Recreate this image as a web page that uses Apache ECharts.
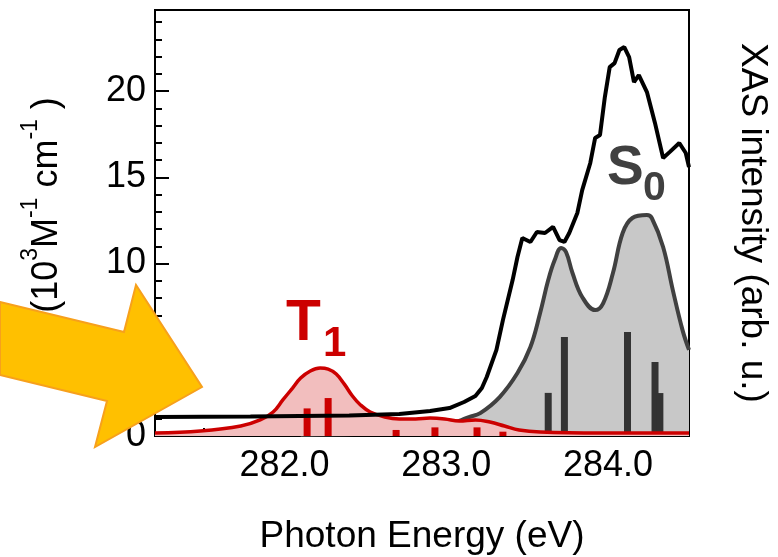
<!DOCTYPE html>
<html>
<head>
<meta charset="utf-8">
<script src="https://cdn.jsdelivr.net/npm/echarts@6/dist/echarts.min.js"></script>
<style>
html, body { margin: 0; padding: 0; background: #fff; }
#main { width: 778px; height: 557px; }
</style>
</head>
<body>
<div id="main"></div>
<script>
// measured XAS (black line)
var xasEnergy = [281.2, 281.79, 282.4, 282.71, 282.9, 283.02, 283.11, 283.18, 283.22, 283.25, 283.31, 283.35, 283.41, 283.44, 283.47, 283.52, 283.56, 283.61, 283.66, 283.70, 283.73, 283.76, 283.81, 283.84, 283.89, 283.92, 283.95, 283.98, 284.01, 284.04, 284.07, 284.10, 284.13, 284.16, 284.19, 284.24, 284.29, 284.34, 284.38, 284.44, 284.48, 284.5];
var xasValue = [1.10, 1.13, 1.19, 1.28, 1.45, 1.62, 1.97, 2.32, 2.78, 3.42, 4.99, 6.72, 9.04, 10.38, 11.48, 11.25, 11.83, 11.77, 12.12, 11.36, 11.25, 11.77, 12.93, 14.26, 15.83, 17.28, 17.45, 19.65, 21.39, 21.62, 22.38, 22.55, 21.97, 20.52, 20.93, 19.94, 18.14, 16.12, 16.46, 16.99, 16.41, 15.59];

// S0 calculated spectrum (grey)
var s0Energy = [282.1, 282.59, 282.84, 282.99, 283.08, 283.14, 283.21, 283.33, 283.44, 283.52, 283.58, 283.63, 283.67, 283.71, 283.74, 283.78, 283.84, 283.92, 283.97, 284.03, 284.09, 284.15, 284.24, 284.27, 284.34, 284.40, 284.46, 284.5];
var s0Value = [0.06, 0.17, 0.35, 0.58, 0.87, 1.10, 1.33, 2.26, 3.65, 5.16, 7.13, 9.04, 10.20, 10.90, 10.67, 9.45, 8.06, 7.30, 7.71, 9.45, 11.77, 12.64, 12.81, 12.64, 10.96, 8.46, 6.14, 4.99];
var s0StickEnergy = [283.63, 283.73, 284.12, 284.29, 284.32];
var s0StickHeight = [2.5, 5.74, 6.03, 4.29, 2.49];

// T1 calculated spectrum (red)
var t1Energy = [281.2, 281.48, 281.73, 281.85, 281.93, 281.99, 282.05, 282.10, 282.16, 282.22, 282.27, 282.32, 282.37, 282.42, 282.47, 282.53, 282.62, 282.71, 282.81, 282.90, 282.99, 283.08, 283.18, 283.27, 283.36, 283.45, 283.58, 283.95, 284.5];
var t1Value = [0.17, 0.29, 0.58, 0.93, 1.39, 2.09, 2.78, 3.36, 3.77, 3.94, 3.88, 3.59, 3.01, 2.32, 1.80, 1.39, 1.10, 0.99, 0.99, 1.04, 0.99, 0.87, 0.93, 0.81, 0.58, 0.35, 0.23, 0.17, 0.17];
var t1StickEnergy = [282.14, 282.27, 282.69, 282.93, 283.19, 283.35];
var t1StickHeight = [1.6, 2.2, 0.35, 0.5, 0.5, 0.25];

// axis ticks
var xLabelTicks = [282, 283, 284];
var xHalfTicks = [281.5, 282.5, 283.5];

function pairs(xs, ys) {
    return xs.map(function (x, i) { return [x, ys[i]]; });
}

// vertical sticks, drawn through the axes
function sticks(name, xs, hs, color, z) {
    return {
        name: name, type: 'custom', z: z, data: pairs(xs, hs),
        renderItem: function (params, api) {
            var base = api.coord([api.value(0), 0]);
            var top = api.coord([api.value(0), api.value(1)]);
            return {
                type: 'rect',
                shape: { x: top[0] - 3.5, y: top[1], width: 7, height: base[1] - top[1] },
                style: { fill: color }
            };
        }
    };
}

var font = 'Liberation Sans, Arial, sans-serif';
var myChart = echarts.init(document.getElementById('main'));

var tickStyle = { color: '#000', width: 2 };

var option = {
    animation: false,
    backgroundColor: '#fff',
    grid: {
        left: 155, right: 89, top: 10, bottom: 121,
        outerBoundsMode: 'none', containLabel: false,
        show: true, borderColor: '#000', borderWidth: 2, backgroundColor: 'transparent'
    },
    xAxis: [{
        type: 'value', min: 281.2, max: 284.5,
        name: 'Photon Energy (eV)', nameLocation: 'middle', nameGap: 82,
        nameTextStyle: { fontFamily: font, fontSize: 37, color: '#000' },
        axisLine: { show: true, onZero: false, lineStyle: tickStyle },
        axisTick: { show: true, inside: true, length: 15, customValues: xLabelTicks, lineStyle: tickStyle },
        axisLabel: {
            customValues: xLabelTicks, margin: 12, fontFamily: font, fontSize: 36, color: '#000',
            formatter: function (v) { return v.toFixed(1); }
        },
        splitLine: { show: false }
    }, {
        // short half-step ticks
        type: 'value', min: 281.2, max: 284.5, position: 'bottom',
        axisLine: { show: false, onZero: false },
        axisTick: { show: true, inside: true, length: 8, customValues: xHalfTicks, lineStyle: tickStyle },
        axisLabel: { show: false },
        splitLine: { show: false }
    }],
    yAxis: [{
        type: 'value', min: 0, max: 24.7, interval: 5,
        axisLine: { show: true, lineStyle: tickStyle },
        axisTick: { show: true, inside: true, length: 14, lineStyle: tickStyle },
        axisLabel: { margin: 9, fontFamily: font, fontSize: 36, color: '#000', showMaxLabel: false },
        splitLine: { show: false }
    }, {
        // minor ticks every 1
        type: 'value', min: 0, max: 24.7, interval: 1, position: 'left',
        axisLine: { show: false },
        axisTick: { show: true, inside: true, length: 7, lineStyle: tickStyle },
        axisLabel: { show: false },
        splitLine: { show: false }
    }],
    series: [{
        name: 'S0', type: 'line', z: 2, data: pairs(s0Energy, s0Value),
        smooth: 0.4, showSymbol: false,
        lineStyle: { color: '#404040', width: 4 },
        areaStyle: { color: '#C8C8C8', opacity: 1 }
    },
    sticks('S0 sticks', s0StickEnergy, s0StickHeight, '#333333', 3),
    {
        name: 'T1', type: 'line', z: 4, data: pairs(t1Energy, t1Value),
        smooth: 0.4, showSymbol: false,
        lineStyle: { color: '#CC0000', width: 3.5 },
        areaStyle: { color: '#F2BEBE', opacity: 1 }
    },
    sticks('T1 sticks', t1StickEnergy, t1StickHeight, '#CC0000', 5),
    {
        name: 'XAS', type: 'line', z: 6, data: pairs(xasEnergy, xasValue),
        showSymbol: false,
        lineStyle: { color: '#000', width: 4 }
    }],
    graphic: [{
        type: 'text', x: 42, y: 205, rotation: Math.PI / 2, z: 50,
        style: {
            text: '{n|(10}{s|3}{n|M}{s|-1}{n| cm}{s|-1}{n| )}',
            align: 'center', verticalAlign: 'middle',
            rich: {
                n: { fontFamily: font, fontSize: 36, lineHeight: 46, fill: '#000', verticalAlign: 'bottom' },
                s: { fontFamily: font, fontSize: 23, lineHeight: 46, fill: '#000', verticalAlign: 'top' }
            }
        }
    }, {
        type: 'text', x: 752, y: 223, rotation: -Math.PI / 2, z: 50,
        style: {
            text: 'XAS intensity (arb. u.)', font: '37px ' + font, fill: '#000',
            align: 'center', verticalAlign: 'middle'
        }
    }, {
        type: 'text', x: 286, y: 324, z: 50,
        style: { text: 'T', font: 'bold 57px ' + font, fill: '#CC0000', align: 'left', verticalAlign: 'middle' }
    }, {
        type: 'text', x: 323, y: 344, z: 50,
        style: { text: '1', font: 'bold 42px ' + font, fill: '#CC0000', align: 'left', verticalAlign: 'middle' }
    }, {
        type: 'text', x: 607, y: 169, z: 50,
        style: { text: 'S', font: 'bold 55px ' + font, fill: '#404040', align: 'left', verticalAlign: 'middle' }
    }, {
        type: 'text', x: 643, y: 189, z: 50,
        style: { text: '0', font: 'bold 41px ' + font, fill: '#404040', align: 'left', verticalAlign: 'middle' }
    }, {
        // orange arrow
        type: 'polygon', z: 100,
        shape: { points: [[0, 302], [124, 332], [136, 285], [202, 387], [95, 447], [107, 401], [0, 375]] },
        style: { fill: '#FFC000', stroke: '#F7A01C', lineWidth: 2 }
    }]
};

myChart.setOption(option);
</script>
</body>
</html>
